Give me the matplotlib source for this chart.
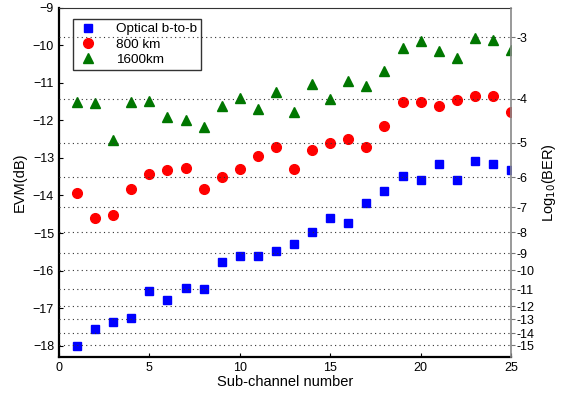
import matplotlib.pyplot as plt
import numpy as np

plt.rcParams['font.family'] = ['Liberation Sans', 'DejaVu Sans']

# =========================
# data
# =========================
channels = np.arange(1, 26)

evm_b2b = [-18.02, -17.56, -17.36, -17.26, -16.55, -16.79, -16.47, -16.49, -15.77, -15.62,
           -15.62, -15.48, -15.30, -14.98, -14.61, -14.74, -14.21, -13.87, -13.49, -13.58,
           -13.17, -13.58, -13.09, -13.17, -13.31]
evm_800 = [-13.93, -14.59, -14.51, -13.82, -13.42, -13.32, -13.26, -13.82, -13.50, -13.29,
           -12.94, -12.72, -13.29, -12.78, -12.60, -12.49, -12.71, -12.16, -11.51, -11.50,
           -11.62, -11.45, -11.34, -11.36, -11.77]
evm_1600 = [-11.52, -11.53, -12.51, -11.52, -11.49, -11.91, -12.00, -12.17, -11.61, -11.41,
            -11.69, -11.23, -11.77, -11.03, -11.43, -10.94, -11.07, -10.68, -10.06, -9.89,
            -10.14, -10.33, -9.81, -9.85, -10.13]

# right axis: log10(BER) labels and where they sit on the EVM scale
ber_labels = ["-3", "-4", "-5", "-6", "-7", "-8", "-9", "-10", "-11", "-12", "-13", "-14", "-15"]
ber_evm_pos = [-9.78, -11.42, -12.59, -13.52, -14.32, -14.98, -15.54, -15.99, -16.50,
               -16.95, -17.30, -17.67, -17.99]

# =========================
# plot
# =========================
fig = plt.figure(figsize=(5.61, 3.93), dpi=100)
ax = fig.add_axes([0.105, 0.092, 0.806, 0.888])

ax.plot(channels, evm_b2b, "s", color="#0000ff", markersize=6, label="Optical b-to-b")
ax.plot(channels, evm_800, "o", color="#ff0000", markersize=7, label="800 km")
ax.plot(channels, evm_1600, "^", color="#007700", markersize=7.5, label="1600km")

ax.set_xlim(0, 25)
ax.set_ylim(-18.3, -9)
ax.set_xticks([0, 5, 10, 15, 20, 25])
ax.set_yticks(np.arange(-18, -8, 1))
ax.tick_params(direction="in", length=3, labelsize=9)
ax.set_xlabel("Sub-channel number", fontsize=10.5, labelpad=1)
ax.set_ylabel("EVM(dB)", fontsize=10.5, labelpad=4)

for s in ["left", "bottom"]:
    ax.spines[s].set_linewidth(1.6)
    ax.spines[s].set_color("black")
ax.spines["top"].set_linewidth(0.8)
ax.spines["top"].set_color("#333333")
ax.spines["right"].set_visible(False)

ax2 = ax.twinx()
ax2.set_ylim(ax.get_ylim())
ax2.set_yticks(ber_evm_pos)
ax2.set_yticklabels(ber_labels)
ax2.tick_params(direction="out", length=3, labelsize=9, pad=1, color="#777777")
ax2.spines["right"].set_color("#888888")
ax2.spines["right"].set_linewidth(1.2)
for s in ["left", "top", "bottom"]:
    ax2.spines[s].set_visible(False)
ax2.yaxis.grid(True, linestyle=(0, (1, 3)), color="#333333", linewidth=0.8)
ax2.set_ylabel("Log$_{10}$(BER)", fontsize=10.5, labelpad=4)

leg = ax.legend(loc="upper left", bbox_to_anchor=(0.031, 0.968), fontsize=9.7,
                frameon=True, fancybox=False, edgecolor="black", handletextpad=1.3,
                borderpad=0.3, labelspacing=0.2, handlelength=1.6, borderaxespad=0)
leg.get_frame().set_linewidth(1.0)
leg.set_zorder(5)

fig.savefig("out.png", dpi=100)
